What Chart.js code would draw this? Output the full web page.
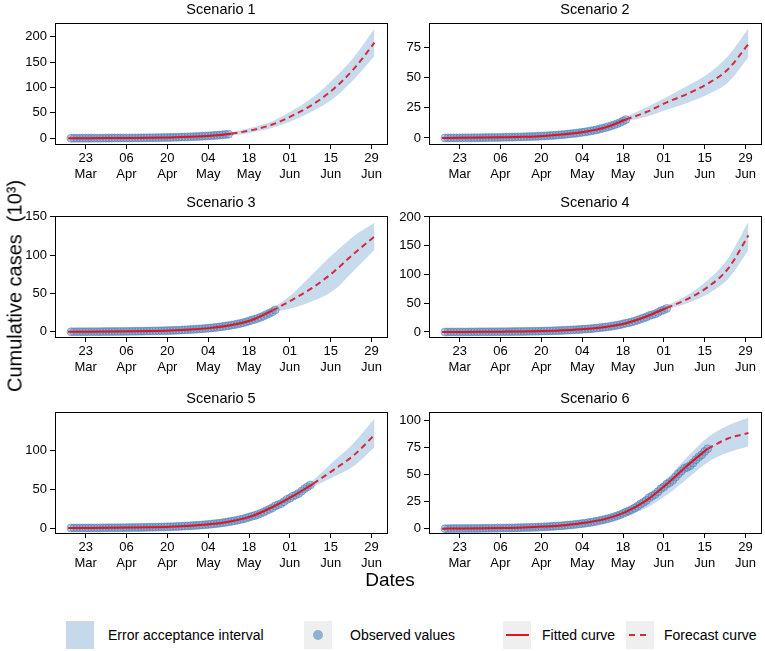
<!DOCTYPE html>
<html>
<head>
<meta charset="utf-8">
<script src="https://cdn.jsdelivr.net/npm/chart.js@4.4.1/dist/chart.umd.min.js"></script>
<style>
  body { margin: 0; background: #fff; font-family: 'Liberation Sans', Arial, sans-serif; color: #000; }
  #wrap { position: relative; width: 765px; height: 651px; overflow: hidden; }
  #wrap canvas { position: absolute; }
  .ytitle { position: absolute; left: 15px; top: 286px; transform: translate(-50%, -50%) rotate(-90deg); font-size: 20px; white-space: nowrap; }
  .xtitle { position: absolute; left: 390px; top: 580px; transform: translate(-50%, -50%); font-size: 19px; }
  .key { position: absolute; top: 621px; width: 28px; height: 28px; background: #efefef; }
  .lbl { position: absolute; top: 626px; font-size: 14px; line-height: 18px; white-space: nowrap; }
</style>
</head>
<body>
<div id="wrap">
  <canvas id="c1" width="381" height="183" style="left:10px;top:1px"></canvas>
  <canvas id="c2" width="381" height="183" style="left:384px;top:1px"></canvas>
  <canvas id="c3" width="381" height="183" style="left:10px;top:194px"></canvas>
  <canvas id="c4" width="381" height="183" style="left:384px;top:194px"></canvas>
  <canvas id="c5" width="381" height="183" style="left:10px;top:390px"></canvas>
  <canvas id="c6" width="381" height="183" style="left:384px;top:390px"></canvas>

  <div class="ytitle">Cumulative cases<span style="margin-left:12px">(10³)</span></div>
  <div class="xtitle">Dates</div>

  <div class="key" style="left:66px;background:#c6d9ec"></div>
  <div class="lbl" style="left:108px">Error acceptance interval</div>
  <div class="key" style="left:304px"><div style="position:absolute;left:9px;top:9px;width:10px;height:10px;border-radius:50%;background:#8fb0d5"></div></div>
  <div class="lbl" style="left:350px">Observed values</div>
  <div class="key" style="left:503px"><div style="position:absolute;left:3px;top:13px;width:23px;height:2px;background:#e3141b"></div></div>
  <div class="lbl" style="left:542px">Fitted curve</div>
  <div class="key" style="left:626px"><div style="position:absolute;left:3px;top:13px;width:22px;height:2px;background:repeating-linear-gradient(90deg,#d42a3c 0 6px,transparent 6px 11px)"></div></div>
  <div class="lbl" style="left:664px">Forecast curve</div>
</div>

<script>
// x values are days counted from 1 March (day 22 = 23 Mar)
const xTickDays = [22, 36, 50, 64, 78, 92, 106, 120];
const xTickLabels = [['23', 'Mar'], ['06', 'Apr'], ['20', 'Apr'], ['04', 'May'], ['18', 'May'], ['01', 'Jun'], ['15', 'Jun'], ['29', 'Jun']];

// observed cumulative cases (thousands), daily from 18 Mar to 16 Jun
const obsDays = [17, 18, 19, 20, 21, 22, 23, 24, 25, 26, 27, 28, 29, 30, 31, 32, 33, 34, 35, 36, 37, 38, 39, 40,
  41, 42, 43, 44, 45, 46, 47, 48, 49, 50, 51, 52, 53, 54, 55, 56, 57, 58, 59, 60, 61, 62, 63, 64, 65, 66, 67, 68,
  69, 70, 71, 72, 73, 74, 75, 76, 77, 78, 79, 80, 81, 82, 83, 84, 85, 86, 87, 88, 89, 90, 91, 92, 93, 94, 95, 96,
  97, 98, 99, 100, 101, 102, 103, 104, 105, 106, 107];
const observed = [0.00, 0.02, 0.04, 0.05, 0.07, 0.08, 0.10, 0.12, 0.14, 0.16, 0.19, 0.21, 0.24, 0.27, 0.30, 0.33,
  0.36, 0.40, 0.44, 0.49, 0.54, 0.59, 0.64, 0.70, 0.76, 0.83, 0.90, 0.97, 1.05, 1.13, 1.22, 1.32, 1.42, 1.54, 1.66,
  1.80, 1.95, 2.12, 2.30, 2.50, 2.70, 2.95, 3.20, 3.45, 3.70, 4.00, 4.30, 4.65, 5.00, 5.40, 5.80, 6.30, 6.80, 7.40,
  8.00, 8.60, 9.30, 10.1, 10.9, 11.8, 12.8, 14.0, 15.2, 16.2, 17.5, 19.0, 20.6, 22.5, 24.2, 26.0, 28.5, 30.0, 31.5,
  34.0, 36.8, 38.5, 41.0, 42.5, 44.5, 47.5, 50.5, 53.0, 55.5, 56.5, 58.0, 60.5, 63.5, 66.0, 68.0, 71.0, 73.5];

// model curves, weekly
const curveDays = [16, 23, 30, 37, 44, 51, 58, 65, 72, 79, 86, 93, 100, 107, 114, 121];

const s1Curve = [0, 0.1, 0.3, 0.6, 1.0, 1.7, 3.0, 5.1, 8.8, 16, 27, 45, 67, 97, 137, 188];
const s1Low = [-0.5, -0.4, -0.2, 0.1, 0.5, 1.1, 2.2, 4.0, 5.5, 11.5, 20.5, 35, 54, 78, 116, 162];
const s1High = [0.5, 0.6, 0.8, 1.1, 1.5, 2.3, 3.8, 6.2, 12, 21, 33.5, 55, 81, 117, 160, 216];

const s2Curve = [0, 0.1, 0.3, 0.6, 1.0, 1.7, 3.0, 5.1, 8.8, 15.3, 21.5, 29.5, 36.5, 45, 57, 78];
const s2Low = [-0.5, -0.4, -0.2, 0.1, 0.5, 1.1, 2.2, 4.0, 7.3, 13.5, 17.5, 23.5, 29, 36, 46, 67];
const s2High = [0.5, 0.6, 0.8, 1.1, 1.5, 2.3, 3.8, 6.2, 10.3, 17.5, 25.5, 34, 43, 53, 68, 91];

const s3Curve = [0, 0.1, 0.3, 0.6, 1.0, 1.7, 3.0, 5.1, 8.8, 15.3, 27.5, 42, 58, 78, 102, 124];
const s3Low = [-0.5, -0.4, -0.2, 0.1, 0.5, 1.1, 2.2, 4.0, 7.3, 13, 25, 31, 40, 54, 80, 107];
const s3High = [0.5, 0.6, 0.8, 1.1, 1.5, 2.3, 3.8, 6.2, 10.3, 17.5, 31, 50, 76, 102, 125, 142];

const s4Curve = [0, 0.1, 0.3, 0.6, 1.0, 1.7, 3.0, 5.1, 8.8, 15.3, 27, 42, 57, 78, 110, 168];
const s4Low = [-0.5, -0.4, -0.2, 0.1, 0.5, 1.1, 2.2, 4.0, 7.3, 13, 24.5, 39, 50, 66, 92, 142];
const s4High = [0.5, 0.6, 0.8, 1.1, 1.5, 2.3, 3.8, 6.2, 10.3, 17.5, 29.5, 46, 64, 90, 128, 192];

const s5Curve = [0, 0.1, 0.3, 0.6, 1.0, 1.7, 3.0, 5.1, 8.8, 15.3, 27, 41, 57, 75, 94, 120];
const s5Low = [-0.5, -0.4, -0.2, 0.1, 0.5, 1.1, 2.2, 4.0, 7.3, 13, 24.5, 38, 53, 66, 80, 104];
const s5High = [0.5, 0.6, 0.8, 1.1, 1.5, 2.3, 3.8, 6.2, 10.3, 17.5, 29.5, 44, 62, 86, 110, 141];

const s6Curve = [0, 0.1, 0.3, 0.6, 1.0, 1.9, 3.2, 5.4, 9.0, 15.5, 26, 41, 58, 73.5, 83, 88];
const s6Low = [-0.5, -0.3, -0.1, 0.2, 0.5, 1.2, 2.2, 3.8, 7.0, 12, 19, 31, 46, 61, 70, 75.5];
const s6High = [0.5, 0.5, 0.7, 1.0, 1.5, 2.6, 4.2, 7.0, 11, 19, 31, 46, 66, 84, 95, 102];

// last fitted day (forecast starts here) and last observed day per scenario
const splitDays = [72, 79, 86, 93, 100, 107];
const obsLastDays = [71, 79, 87, 93, 99, 107];

// y axes
const yMins = [-11.3, -5, -6.8, -8.7, -6.4, -4];
const yMaxs = [226, 95, 150.4, 201, 149, 107];
const yTicks = [[0, 50, 100, 150, 200], [0, 25, 50, 75], [0, 50, 100, 150], [0, 50, 100, 150, 200], [0, 50, 100], [0, 25, 50, 75, 100]];

const curves = [s1Curve, s2Curve, s3Curve, s4Curve, s5Curve, s6Curve];
const lows = [s1Low, s2Low, s3Low, s4Low, s5Low, s6Low];
const highs = [s1High, s2High, s3High, s4High, s5High, s6High];

const bandColor = '#c8dbed';
const fitRed = '#e3141b';
const forecastRed = '#d42a3c';

Chart.defaults.font.family = "'Liberation Sans', Arial, sans-serif";
Chart.defaults.color = '#000';

// full black box round the plot area
const frame = {
  id: 'frame',
  afterDraw(chart) {
    const { ctx, chartArea: a } = chart;
    ctx.save();
    ctx.strokeStyle = '#000';
    ctx.lineWidth = 1;
    ctx.strokeRect(Math.round(a.left) + 0.5, Math.round(a.top) + 0.5, Math.round(a.right - a.left), Math.round(a.bottom - a.top));
    ctx.restore();
  }
};

function toPoints(days, vals, from, to) {
  const out = [];
  days.forEach((d, i) => { if (d >= from && d <= to) out.push({ x: d, y: vals[i] }); });
  return out;
}

function makePanel(i) {
  const split = splitDays[i];
  new Chart(document.getElementById('c' + (i + 1)), {
    type: 'line',
    data: {
      datasets: [
        { data: toPoints(curveDays, curves[i], split, 999), borderColor: forecastRed, borderWidth: 2, borderDash: [6, 4],
          pointRadius: 0, cubicInterpolationMode: 'monotone', fill: false },
        { data: toPoints(curveDays, curves[i], 0, split), borderColor: fitRed, borderWidth: 2,
          pointRadius: 0, cubicInterpolationMode: 'monotone', fill: false },
        { data: toPoints(obsDays, observed, 0, obsLastDays[i]), showLine: false, pointRadius: 4,
          pointBackgroundColor: 'rgba(100,145,196,0.45)', pointBorderColor: 'rgba(70,120,180,0.5)', pointBorderWidth: 1 },
        { data: toPoints(curveDays, highs[i], 0, 999), borderWidth: 0, borderColor: 'rgba(0,0,0,0)', pointRadius: 0,
          backgroundColor: bandColor, fill: '+1', cubicInterpolationMode: 'monotone' },
        { data: toPoints(curveDays, lows[i], 0, 999), borderWidth: 0, borderColor: 'rgba(0,0,0,0)', pointRadius: 0,
          fill: false, cubicInterpolationMode: 'monotone' }
      ]
    },
    options: {
      responsive: false,
      animation: false,
      devicePixelRatio: 1,
      layout: { padding: { left: 0, right: 4, top: 0, bottom: 0 }, autoPadding: false },
      plugins: {
        legend: { display: false },
        tooltip: { enabled: false },
        title: { display: true, fullSize: false, text: 'Scenario ' + (i + 1), color: '#000',
          font: { size: 14.5, weight: 'normal', lineHeight: 1.2 }, padding: { top: 0, bottom: 5 } }
      },
      scales: {
        x: {
          type: 'linear', min: 11.5, max: 125.3,
          afterBuildTicks: s => { s.ticks = xTickDays.map(v => ({ value: v })); },
          afterFit: s => { s.height = 40; },
          ticks: { callback: (v, idx) => xTickLabels[idx], font: { size: 13 }, padding: 2, maxRotation: 0, autoSkip: false, color: '#000' },
          grid: { drawOnChartArea: false, tickLength: 5, tickColor: '#000', color: '#000' },
          border: { display: true, color: '#000', width: 1 }
        },
        y: {
          type: 'linear', min: yMins[i], max: yMaxs[i],
          afterBuildTicks: s => { s.ticks = yTicks[i].map(v => ({ value: v })); },
          afterFit: s => { s.width = 45; },
          ticks: { font: { size: 13 }, padding: 3, color: '#000' },
          grid: { drawOnChartArea: false, tickLength: 5, tickColor: '#000', color: '#000' },
          border: { display: true, color: '#000', width: 1 }
        }
      }
    },
    plugins: [frame]
  });
}

for (let i = 0; i < 6; i++) makePanel(i);
</script>
</body>
</html>
